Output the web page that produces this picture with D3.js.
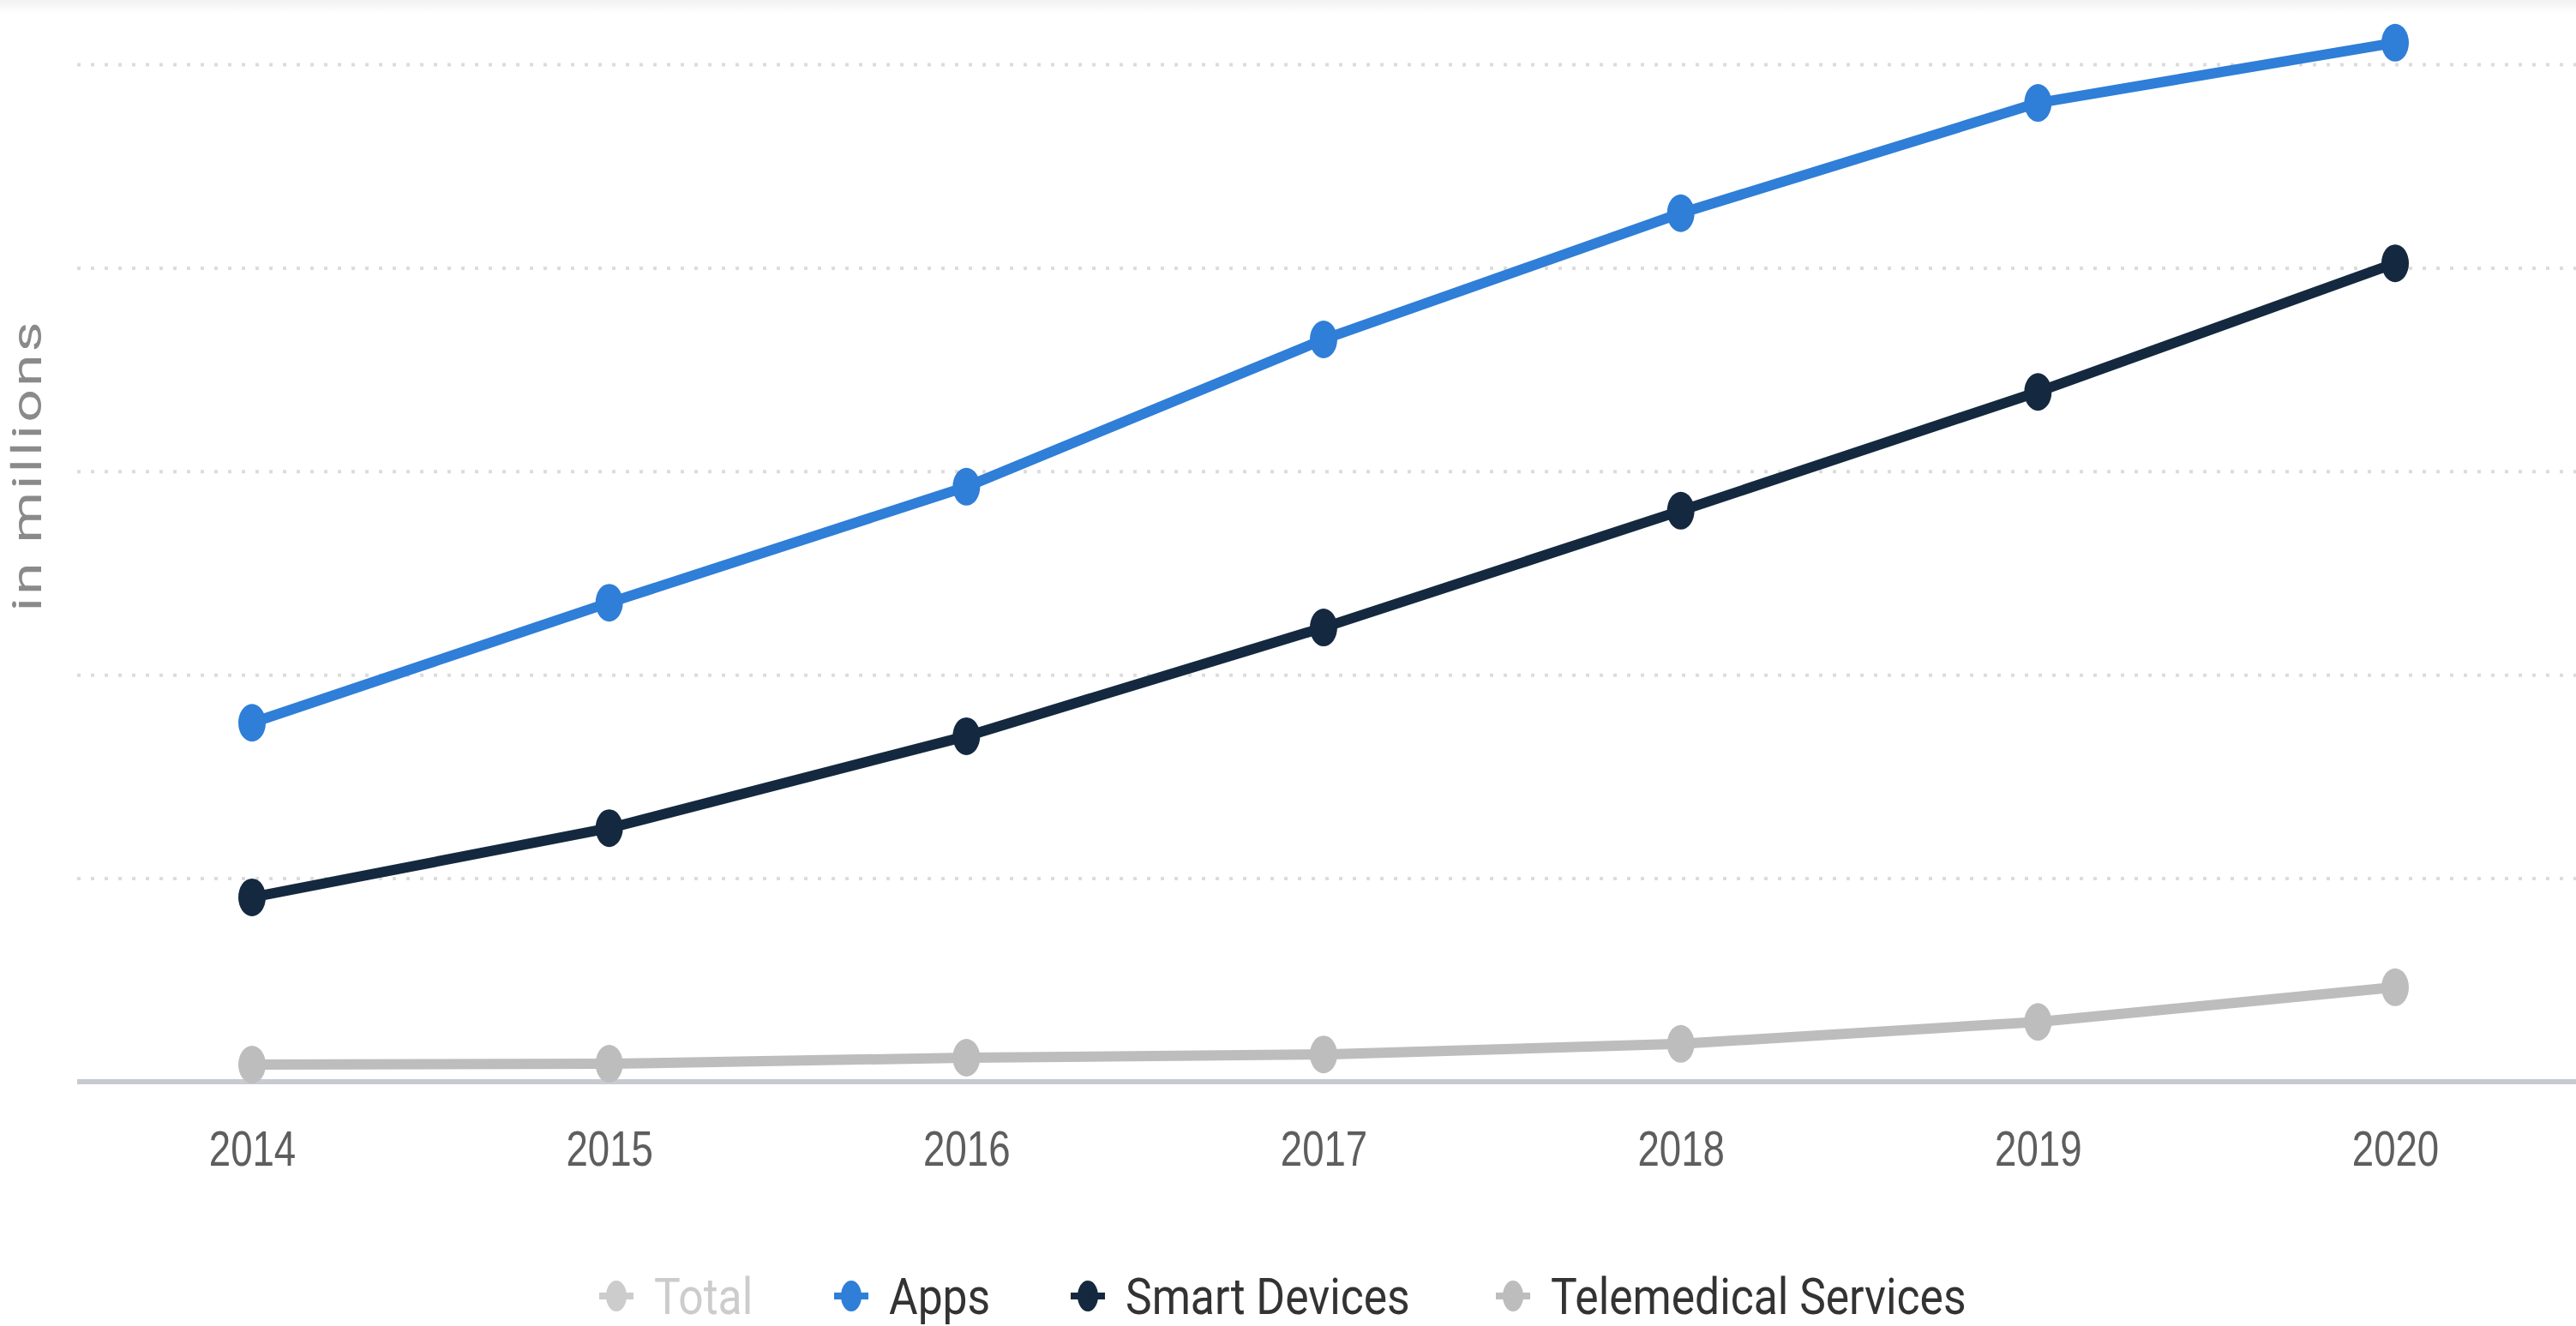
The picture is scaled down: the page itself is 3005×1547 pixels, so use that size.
<!DOCTYPE html>
<html>
<head>
<meta charset="utf-8">
<script src="https://cdn.jsdelivr.net/npm/d3@7"></script>
<style>
  html, body { margin: 0; padding: 0; background: #fff; }
  svg { display: block; font-family: Roboto, "Open Sans", sans-serif; }
</style>
</head>
<body>
<svg id="chart" width="3005" height="1547"></svg>
<script>
// values (y axis has no labels, gridline step = 50)
const years = [2014, 2015, 2016, 2017, 2018, 2019, 2020];
const apps = [88.2, 117.7, 146.2, 182.4, 213.4, 240.5, 255.3];
const smartDevices = [45.3, 62.3, 84.9, 111.6, 140.3, 169.5, 201.1];
const telemedical = [4.2, 4.4, 5.9, 6.7, 9.3, 14.7, 23.2];
const gridTicks = [50, 100, 150, 200, 250];

const seriesNames = ["Total", "Apps", "Smart Devices", "Telemedical Services"];
const seriesColors = ["#cccccc", "#2f7ed8", "#14293f", "#bdbdbd"];
const seriesVisible = [false, true, true, true];
const seriesValues = [null, apps, smartDevices, telemedical];

const squish = 0.8; // the whole picture is narrowed horizontally

const svg = d3.select("#chart");

// faint shadow band on top
const grad = svg.append("defs").append("linearGradient")
  .attr("id", "topShade").attr("x1", 0).attr("y1", 0).attr("x2", 0).attr("y2", 1);
grad.append("stop").attr("offset", "0%").attr("stop-color", "#f2f2f2");
grad.append("stop").attr("offset", "100%").attr("stop-color", "#ffffff");
svg.append("rect").attr("x", 0).attr("y", 0).attr("width", 3005).attr("height", 16)
  .attr("fill", "url(#topShade)");

const x = d3.scalePoint().domain(years).range([294, 2794]);
const y = d3.scaleLinear().domain([0, 250]).range([1262, 75]);

// dotted gridlines
const grid = svg.append("g")
  .attr("transform", "translate(90,0)")
  .call(d3.axisLeft(y).tickValues(gridTicks).tickSize(-2915).tickFormat(""));
grid.select(".domain").remove();
grid.selectAll(".tick line")
  .attr("stroke", "#dcdcdc")
  .attr("stroke-width", 4)
  .attr("stroke-dasharray", "4 12");

// x axis
const xAxis = svg.append("g")
  .attr("transform", `translate(0,${y(0)})`)
  .call(d3.axisBottom(x).tickSize(0).tickPadding(58));
xAxis.select(".domain").remove();
xAxis.selectAll(".tick text")
  .attr("font-size", 57)
  .attr("fill", "#5e5e5e")
  .attr("transform", `scale(${squish},1)`);

svg.append("line")
  .attr("x1", 90).attr("x2", 3005)
  .attr("y1", y(0)).attr("y2", y(0))
  .attr("stroke", "#c8cad2").attr("stroke-width", 6);

// y label
svg.append("text")
  .attr("transform", `translate(48,543) scale(0.72,1) rotate(-90)`)
  .attr("text-anchor", "middle")
  .attr("font-size", 68)
  .attr("fill", "#8a8a8a")
  .attr("letter-spacing", 3)
  .text("in millions");

// lines and markers
const line = d3.line()
  .x((d, i) => x(years[i]))
  .y(d => y(d));

seriesValues.forEach((vals, s) => {
  if (!seriesVisible[s]) return;
  const g = svg.append("g");
  g.append("path")
    .datum(vals)
    .attr("d", line)
    .attr("fill", "none")
    .attr("stroke", seriesColors[s])
    .attr("stroke-width", 12)
    .attr("stroke-linejoin", "round");
  g.selectAll("ellipse")
    .data(vals)
    .join("ellipse")
    .attr("cx", (d, i) => x(years[i]))
    .attr("cy", d => y(d))
    .attr("rx", 16)
    .attr("ry", 22)
    .attr("fill", seriesColors[s]);
});

// legend
const legendX = [719, 993, 1269, 1765];
const legend = svg.append("g");
seriesNames.forEach((name, s) => {
  const item = legend.append("g").attr("transform", `translate(${legendX[s]},1512)`);
  item.append("line")
    .attr("x1", -20).attr("x2", 20)
    .attr("stroke", seriesColors[s]).attr("stroke-width", 8);
  item.append("ellipse")
    .attr("rx", 12).attr("ry", 18)
    .attr("fill", seriesColors[s]);
  item.append("text")
    .attr("transform", `translate(44,21) scale(0.86,1)`)
    .attr("font-size", 60)
    .attr("fill", seriesVisible[s] ? "#333333" : "#cccccc")
    .text(name);
});
</script>
</body>
</html>
